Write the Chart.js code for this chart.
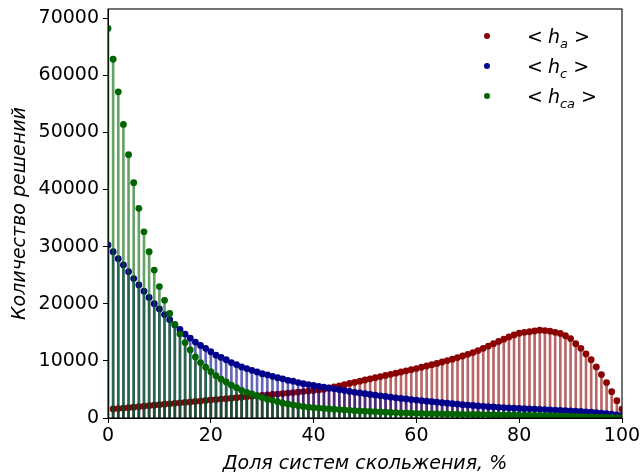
<!DOCTYPE html>
<html>
<head>
<meta charset="utf-8">
<script src="https://cdn.jsdelivr.net/npm/chart.js@4.4.0/dist/chart.umd.min.js"></script>
<style>
  body { margin: 0; background: #fff; }
  #wrap { position: relative; width: 641px; height: 475px; }
  #legend { position: absolute; left: 478px; top: 21px; font-family: 'DejaVu Sans'; font-size: 19px; color: #000; }
  .item { height: 30px; display: flex; align-items: center; white-space: nowrap; }
  .dot { width: 6px; height: 6px; border-radius: 50%; display: inline-block; margin-left: 6px; margin-right: 37px; }
  .lbl i { font-style: italic; margin-left: 5px; }
  .lbl sub { font-size: 13px; font-style: italic; vertical-align: -5px; line-height: 0; margin-right: 6px; }
</style>
</head>
<body>
<div id="wrap">
  <canvas id="chart" width="641" height="475"></canvas>
  <div id="legend">
    <div class="item"><span class="dot" style="background:#8b0000"></span><span class="lbl">&lt;<i>h</i><sub>a</sub>&gt;</span></div>
    <div class="item"><span class="dot" style="background:#00008b"></span><span class="lbl">&lt;<i>h</i><sub>c</sub>&gt;</span></div>
    <div class="item"><span class="dot" style="background:#006400"></span><span class="lbl">&lt;<i>h</i><sub>ca</sub>&gt;</span></div>
  </div>
</div>
<script>
// доля систем скольжения, %
const shares = Array.from({ length: 101 }, (_, i) => i);

const hA = [null,
  1580, 1650, 1720, 1800, 1880, 1970, 2060, 2150, 2240, 2330,
  2410, 2490, 2570, 2650, 2730, 2810, 2890, 2970, 3060, 3150,
  3230, 3310, 3390, 3470, 3550, 3630, 3710, 3790, 3870, 3950,
  4030, 4110, 4190, 4270, 4360, 4450, 4540, 4630, 4720, 4800,
  4900, 5050, 5220, 5430, 5640, 5840, 6050, 6250, 6450, 6650,
  6850, 7050, 7250, 7450, 7650, 7850, 8050, 8260, 8460, 8660,
  8880, 9100, 9330, 9560, 9800, 10050, 10300, 10570, 10850, 11150,
  11450, 11800, 12200, 12600, 13000, 13400, 13800, 14200, 14550, 14850,
  15000, 15100, 15250, 15380, 15300, 15200, 15000, 14800, 14400, 13900,
  13000, 12200, 11200, 10200, 8950, 7600, 6200, 4600, 3040, 1530];

const hC = [30300,
  29100, 27900, 26800, 25600, 24400, 23300, 22200, 21100, 20000, 19100,
  18100, 17200, 16300, 15500, 14700, 14000, 13300, 12700, 12200, 11600,
  11000, 10600, 10200, 9700, 9350, 8950, 8650, 8350, 8050, 7750,
  7550, 7300, 7050, 6850, 6600, 6450, 6200, 6000, 5850, 5700,
  5550, 5400, 5250, 5100, 4950, 4800, 4650, 4500, 4380, 4250,
  4120, 4000, 3880, 3760, 3650, 3540, 3430, 3330, 3230, 3130,
  3030, 2940, 2850, 2760, 2670, 2580, 2500, 2420, 2340, 2260,
  2190, 2120, 2050, 1990, 1930, 1870, 1820, 1770, 1720, 1680,
  1640, 1600, 1560, 1510, 1470, 1420, 1380, 1330, 1290, 1240,
  1190, 1140, 1080, 1020, 950, 870, 780, 670, 540, 400];

const hCA = [68200,
  62800, 57100, 51400, 46100, 41200, 36700, 32600, 29100, 25900, 23000,
  20600, 18300, 16400, 14700, 13200, 11900, 10700, 9700, 8900, 8100,
  7400, 6800, 6300, 5750, 5300, 4850, 4500, 4200, 3900, 3600,
  3300, 3100, 2850, 2600, 2450, 2300, 2150, 2000, 1880, 1800,
  1730, 1660, 1590, 1530, 1470, 1410, 1350, 1290, 1240, 1190,
  1140, 1100, 1060, 1020, 980, 950, 910, 880, 850, 820,
  800, 780, 760, 740, 720, 700, 680, 670, 650, 640,
  620, 610, 600, 580, 570, 560, 550, 540, 530, 520,
  500, 480, 460, 440, 420, 390, 370, 340, 320, 290,
  260, 240, 210, 180, 150, 130, 110, 90, 70, 50];

const yTicks = [0, 10000, 20000, 30000, 40000, 50000, 60000, 70000];
const xTicks = [0, 20, 40, 60, 80, 100];

const toPts = vals => shares.map((x, i) => ({ x: x, y: vals[i] }));

function stems(vals, color, order) {
  return {
    type: 'bar', data: toPts(vals), backgroundColor: color,
    barThickness: 2, grouped: false, borderWidth: 0, order: order
  };
}
function marks(vals, color, order) {
  return {
    type: 'line', data: toPts(vals), showLine: false, pointRadius: 3.4,
    pointBackgroundColor: color, pointBorderWidth: 0, order: order, clip: 0
  };
}

// рамка вокруг области графика
const frame = {
  id: 'frame',
  afterDraw(chart) {
    const { ctx, chartArea: a } = chart;
    ctx.save();
    ctx.strokeStyle = '#000';
    ctx.lineWidth = 1.1;
    ctx.strokeRect(a.left, a.top, a.right - a.left, a.bottom - a.top);
    ctx.restore();
  }
};

Chart.defaults.color = '#000';
Chart.defaults.font.family = 'DejaVu Sans';
Chart.defaults.font.size = 19;

new Chart(document.getElementById('chart'), {
  type: 'bar',
  data: {
    datasets: [
      stems(hA, 'rgba(139,0,0,0.6)', 6),
      marks(hA, '#8b0000', 5),
      stems(hC, 'rgba(0,0,139,0.6)', 4),
      marks(hC, '#00008b', 3),
      stems(hCA, 'rgba(0,100,0,0.6)', 2),
      marks(hCA, '#006400', 1)
    ]
  },
  options: {
    responsive: false,
    animation: false,
    layout: { padding: { top: 9, right: 19, left: 0, bottom: 0 } },
    plugins: { legend: { display: false }, tooltip: { enabled: false } },
    scales: {
      x: {
        type: 'linear', min: 0, max: 100, offset: false,
        grid: { drawOnChartArea: false, offset: false, color: '#000', tickLength: 5 },
        border: { color: '#000' },
        ticks: { stepSize: 20, padding: 2, maxRotation: 0, callback: v => String(v) },
        afterBuildTicks: s => { s.ticks = xTicks.map(v => ({ value: v })); },
        afterFit: s => { s.height = 57; s.paddingLeft = 0; s.paddingRight = 0; },
        title: { display: true, text: 'Доля систем скольжения, %', font: { style: 'italic', size: 19 }, padding: { top: 0, bottom: 0 } }
      },
      y: {
        type: 'linear', min: 0, max: 71600,
        grid: { drawOnChartArea: false, color: '#000', tickLength: 5 },
        border: { color: '#000' },
        ticks: { stepSize: 10000, padding: 4, callback: v => String(v) },
        afterBuildTicks: s => { s.ticks = yTicks.map(v => ({ value: v })); },
        afterFit: s => { s.width = 108; s.paddingTop = 0; s.paddingBottom = 0; },
        title: { display: true, text: 'Количество решений', font: { style: 'italic', size: 19 }, padding: { top: 9, bottom: 0 } }
      }
    }
  },
  plugins: [frame]
});
</script>
</body>
</html>
